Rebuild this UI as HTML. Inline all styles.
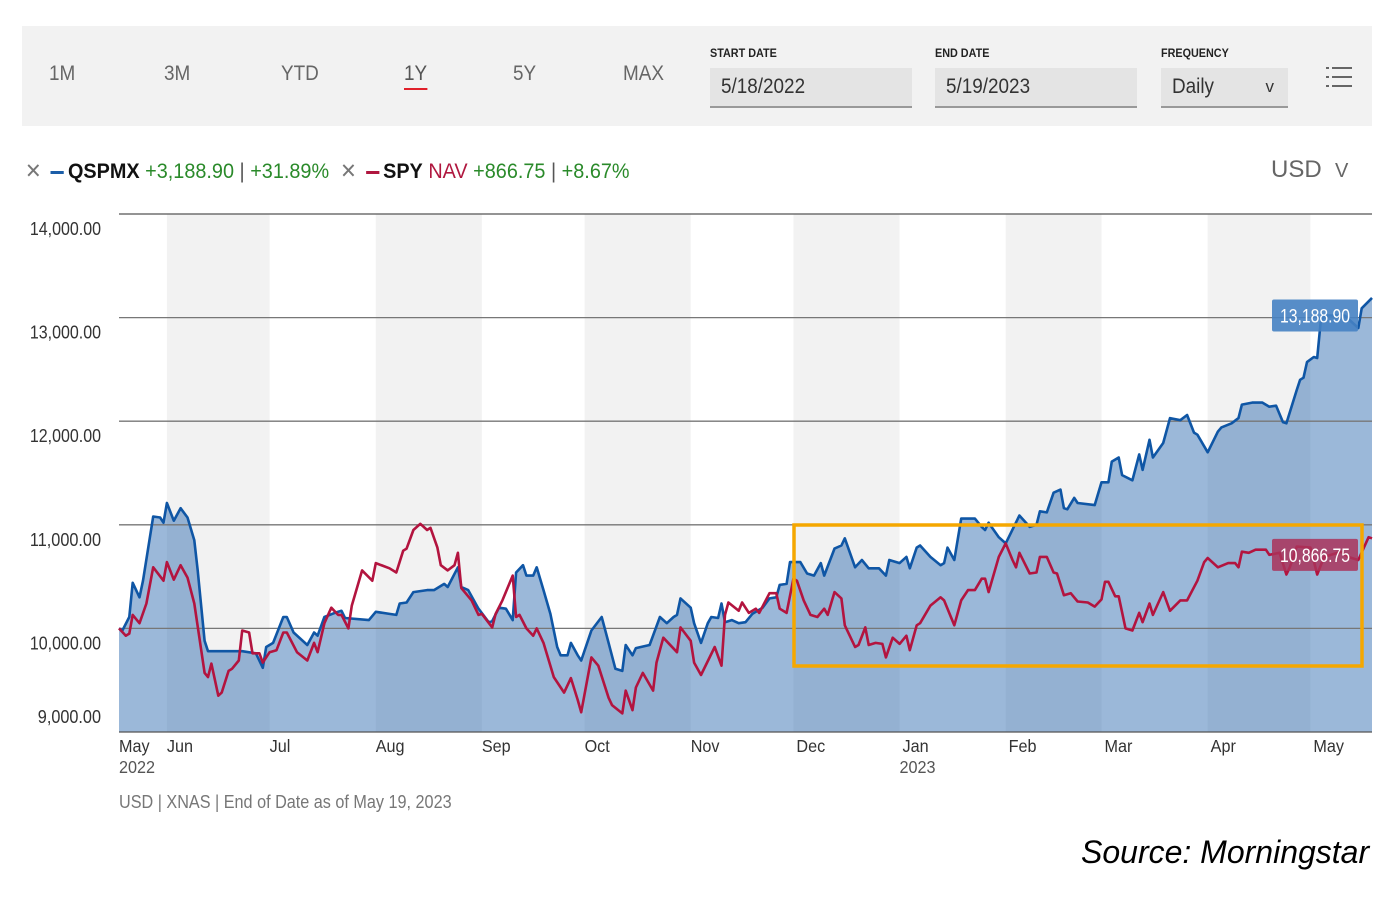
<!DOCTYPE html>
<html><head><meta charset="utf-8">
<style>
body{margin:0;width:1400px;height:912px;background:#fff;font-family:"Liberation Sans Narrow","Liberation Sans",sans-serif;overflow:hidden;position:relative}
.abs{position:absolute}
.tab{position:absolute;top:62px;font-size:21px;color:#666;transform:scaleX(0.9);transform-origin:left}
.lbl{position:absolute;top:46px;font-size:12px;font-weight:bold;color:#222;transform:scaleX(0.9);transform-origin:left}
.inp{position:absolute;top:68px;height:40px;background:#e4e4e4;border-bottom:2px solid #999;box-sizing:border-box;font-size:21px;color:#333;padding:7px 11px}
</style></head><body>
<div class="abs" style="left:22px;top:26px;width:1350px;height:100px;background:#f2f2f2"></div>
<div class="tab" style="left:49px">1M</div>
<div class="tab" style="left:164px">3M</div>
<div class="tab" style="left:281px">YTD</div>
<div class="tab" style="left:404px;color:#555">1Y<div style="height:2px;background:#e0202a;margin-top:2px"></div></div>
<div class="tab" style="left:513px">5Y</div>
<div class="tab" style="left:623px">MAX</div>
<div class="lbl" style="left:710px">START DATE</div>
<div class="inp" style="left:710px;width:202px"><span style="display:inline-block;transform:scaleX(0.9);transform-origin:left">5/18/2022</span></div>
<div class="lbl" style="left:935px">END DATE</div>
<div class="inp" style="left:935px;width:202px"><span style="display:inline-block;transform:scaleX(0.9);transform-origin:left">5/19/2023</span></div>
<div class="lbl" style="left:1161px">FREQUENCY</div>
<div class="inp" style="left:1161px;width:127px"><span style="display:inline-block;transform:scaleX(0.9);transform-origin:left">Daily</span><span style="position:absolute;right:14px;top:9px;font-size:17px">v</span></div>
<div class="abs" style="left:1326px;top:66px;width:26px;height:22px">
<svg width="26" height="22"><g stroke="#666" stroke-width="2"><line x1="0" y1="2" x2="3" y2="2"/><line x1="6" y1="2" x2="26" y2="2"/><line x1="0" y1="11" x2="3" y2="11"/><line x1="6" y1="11" x2="26" y2="11"/><line x1="0" y1="20" x2="3" y2="20"/><line x1="6" y1="20" x2="26" y2="20"/></g></svg></div>

<div class="abs" style="left:25px;top:159px;font-size:21px;white-space:nowrap;transform:scaleX(0.945);transform-origin:left">
<span style="color:#777">✕</span>
<span style="display:inline-block;width:14px;height:3px;background:#1b5ea8;vertical-align:middle;margin:0 4px"></span><b style="color:#111;font-weight:bold">QSPMX</b>
<span style="color:#2a8a2a">+3,188.90 <span style="color:#555">|</span> +31.89%</span>
&nbsp;<span style="color:#777">✕</span>
<span style="display:inline-block;width:14px;height:3px;background:#b0173f;vertical-align:middle;margin:0 4px"></span><b style="color:#111">SPY</b>
<span style="color:#b0173f">NAV</span>
<span style="color:#2a8a2a">+866.75 <span style="color:#555">|</span> +8.67%</span></div>
<div class="abs" style="left:1271px;top:156px;font-size:24px;color:#666">USD &nbsp;<span style="font-size:20px">V</span></div>

<svg id="chart" class="abs" style="left:0;top:0" width="1400" height="912"></svg>

<div class="abs" style="left:119px;top:792px;font-size:18px;color:#777;transform:scaleX(0.9);transform-origin:left;white-space:nowrap">USD | XNAS | End of Date as of May 19, 2023</div>
<div class="abs" style="left:1081px;top:834px;font-size:32px;font-style:italic;color:#000;font-family:'Liberation Sans',sans-serif;white-space:nowrap">Source: Morningstar</div>

<script>
const yTicks=[14000,13000,12000,11000,10000,9000];
const yTickLabels=["14,000.00","13,000.00","12,000.00","11,000.00","10,000.00","9,000.00"];
const monthDays=[0,14,44,75,106,136,167,197,228,259,287,318,348];
const monthLabels=["May","Jun","Jul","Aug","Sep","Oct","Nov","Dec","Jan","Feb","Mar","Apr","May"];
const yearLabels={0:"2022",8:"2023"};
const bandStart=[14,75,136,197,259,318];
const bandEnd=[44,106,167,228,287,348];
const qDays=[0,1,3,4,6,7,10,12,13,14,16,18,20,22,23,25,26,36,40,42,43,45,48,49,51,55,57,58,60,63,65,66,73,75,79,81,82,84,86,90,92,95,96,99,100,102,105,108,109,111,113,115,116,118,119,121,122,124,126,128,129,131,132,134,135,138,141,143,145,147,148,150,151,155,158,160,162,163,164,167,168,170,172,173,175,176,177,179,181,183,185,188,190,192,193,195,196,199,201,203,205,206,209,211,212,215,217,219,222,224,225,228,230,231,233,234,237,240,241,242,244,246,250,252,253,254,257,259,263,266,268,269,271,273,275,276,277,279,280,285,287,289,290,292,293,296,298,299,301,302,305,307,310,312,314,315,318,321,322,325,327,328,331,334,336,338,340,341,344,345,346,347,349,350,351,352,358,362,363,366];
const qVals=[10000,9980,10110,10440,10300,10460,11080,11070,11020,11210,11040,11160,11070,10850,10560,9880,9780,9780,9760,9620,9820,9860,10110,10110,9960,9840,9960,9930,10110,10150,10170,10100,10080,10160,10140,10130,10240,10250,10350,10370,10370,10430,10400,10590,10400,10370,10190,10060,10070,10200,10190,10080,10540,10610,10510,10510,10590,10370,10140,9820,9740,9740,9860,9740,9690,9980,10110,9860,9610,9590,9840,9740,9810,9840,10110,10050,10110,10130,10290,10200,10050,9860,10050,10110,10100,10240,10060,10080,10050,10060,10140,10200,10290,10300,10420,10430,10640,10640,10530,10510,10630,10510,10770,10800,10870,10590,10660,10580,10580,10510,10660,10630,10690,10580,10780,10800,10690,10610,10630,10780,10660,11060,11060,10980,10950,11020,10880,10820,11090,10980,11000,11130,11120,11310,11340,11160,11150,11260,11210,11190,11410,11410,11610,11650,11480,11430,11680,11530,11820,11650,11790,12030,12010,12060,11890,11870,11700,11900,11940,11980,12030,12160,12180,12180,12140,12150,11990,11980,12300,12400,12420,12570,12620,12610,12950,13020,13020,12900,13090,13190];
const sDays=[0,2,3,4,6,8,10,13,14,16,18,20,22,25,26,27,29,30,32,33,35,36,38,39,41,42,44,46,48,49,52,55,57,58,60,62,64,65,67,68,71,74,75,79,81,83,84,86,88,90,91,93,94,96,98,99,100,103,105,106,109,110,112,115,116,117,119,121,122,124,127,130,132,134,135,138,140,143,144,147,148,150,151,153,156,157,159,163,164,167,168,170,174,176,177,178,181,182,184,186,187,190,192,193,195,197,198,200,202,204,206,207,209,211,212,215,216,218,219,221,223,224,226,228,230,231,233,234,237,240,241,243,244,246,248,250,252,253,254,257,259,261,262,263,266,268,269,271,273,274,276,278,280,283,285,287,288,289,291,292,294,296,298,299,301,302,305,307,310,312,315,317,318,321,324,326,327,328,330,332,335,336,339,341,342,344,348,350,352,356,357,359,362,365,366];
const sVals=[10000,9930,9950,10130,10050,10240,10590,10460,10640,10470,10610,10490,10240,9570,9530,9660,9350,9380,9590,9610,9690,9980,9960,9760,9760,9670,9770,9790,9960,9960,9770,9690,9860,9770,10050,10200,10130,10130,10000,10220,10560,10460,10630,10580,10540,10750,10770,10950,11010,10950,10970,10780,10610,10560,10610,10730,10390,10270,10130,10140,10010,10140,10270,10510,10110,10130,10000,9930,10000,9860,9530,9380,9520,9310,9190,9720,9640,9330,9260,9180,9400,9210,9430,9570,9400,9670,9910,9770,10010,9880,9670,9550,9820,9640,10130,10250,10170,10250,10150,10190,10150,10340,10340,10190,10150,10480,10460,10270,10130,10110,10190,10130,10350,10290,10030,9820,9840,10010,9840,9860,9850,9720,9910,9850,9930,9790,10030,10050,10220,10300,10270,10110,10030,10270,10370,10370,10480,10480,10350,10690,10820,10660,10590,10730,10530,10540,10690,10690,10540,10530,10320,10340,10260,10250,10210,10280,10450,10450,10310,10310,10000,9980,10150,10060,10240,10130,10350,10170,10270,10270,10460,10640,10680,10590,10630,10630,10590,10740,10730,10760,10760,10710,10730,10520,10590,10790,10780,10520,10690,10730,10740,10690,10660,10880,10870];
const qLast="13,188.90", sLast="10,866.75";

const X0=119,X1=1372,DMAX=366,Y0=214,PX=103.6;
const FONT='"Liberation Sans Narrow","Liberation Sans",sans-serif';
const xs=d=>X0+(X1-X0)*d/DMAX;
const ys=v=>Y0+(14000-v)/1000*PX;
const svg=document.getElementById('chart');
const NS='http://www.w3.org/2000/svg';
function mk(t,a,p){const e=document.createElementNS(NS,t);for(const k in a)e.setAttribute(k,a[k]);(p||svg).appendChild(e);return e;}
const bottom=ys(9000);
bandStart.forEach((b,i)=>{
  const r=mk('rect',{x:xs(b),y:Y0,width:xs(bandEnd[i])-xs(b),height:bottom-Y0,fill:'#f2f2f2'});
  
  
});
let ad='M'+xs(qDays[0])+','+bottom;
qDays.forEach((d,i)=>ad+=' L'+xs(d).toFixed(1)+','+ys(qVals[i]).toFixed(1));
ad+=' L'+xs(qDays[qDays.length-1])+','+bottom+' Z';
const area=mk('path',{d:ad,fill:'rgba(38,100,172,0.46)'});


yTicks.forEach((v,i)=>{
  const l=mk('line',{x1:119,x2:1372,y1:ys(v),y2:ys(v),stroke:i==0||i==5?'#555':'#777','stroke-width':1.3});
  
  
  const t=mk('text',{x:101,y:ys(v)+(i==0?21:i==5?-9:21),'text-anchor':'end','font-size':18,fill:'#333','font-family':FONT,textLength:yTickLabels[i].length*7.9,lengthAdjust:'spacingAndGlyphs'});
  t.textContent=yTickLabels[i];
  
  
});
function line(days,vals,col,name){
  let d='';days.forEach((dd,i)=>d+=(i?' L':'M')+xs(dd).toFixed(1)+','+ys(vals[i]).toFixed(1));
  const p=mk('path',{d:d,fill:'none',stroke:col,'stroke-width':2.6,'stroke-linejoin':'round'});
  
  
}
line(qDays,qVals,'#0f56a5','qspmx-line');
line(sDays,sVals,'#b3143f','spy-line');
monthDays.forEach((d,i)=>{
  const t=mk('text',{x:xs(d)+(i>=7?3:0),y:752,'font-size':18,fill:'#333','font-family':FONT,transform:'translate('+(xs(d)+(i>=7?3:0))+',0) scale(0.9,1) translate('+(-(xs(d)+(i>=7?3:0)))+',0)'});
  t.textContent=monthLabels[i];
  
  
  if(yearLabels[i]){const y=mk('text',{x:xs(d),y:773,'font-size':18,fill:'#555','font-family':FONT,transform:'translate('+xs(d)+',0) scale(0.9,1) translate('+(-xs(d))+',0)'});y.textContent=yearLabels[i];
  
  }
});
const hl=mk('rect',{x:794,y:525,width:568,height:141,fill:'none',stroke:'#f5a700','stroke-width':3.5});


function tag(yv,txt,col,name){
  const g=mk('g',{});
  
  
  const y=ys(yv);
  mk('rect',{x:1272,y:y-16,width:86,height:32,rx:2,fill:col},g);
  const t=mk('text',{x:1315,y:y+7,'text-anchor':'middle','font-size':19,fill:'#fff','font-family':FONT,textLength:70,lengthAdjust:'spacingAndGlyphs'},g);
  t.textContent=txt;
}
tag(qVals[qVals.length-1]-170,qLast,'rgba(70,130,195,0.9)','qspmx-last-value');
tag(sVals[sVals.length-1]-160,sLast,'rgba(170,50,90,0.85)','spy-last-value');
</script>
</body></html>
